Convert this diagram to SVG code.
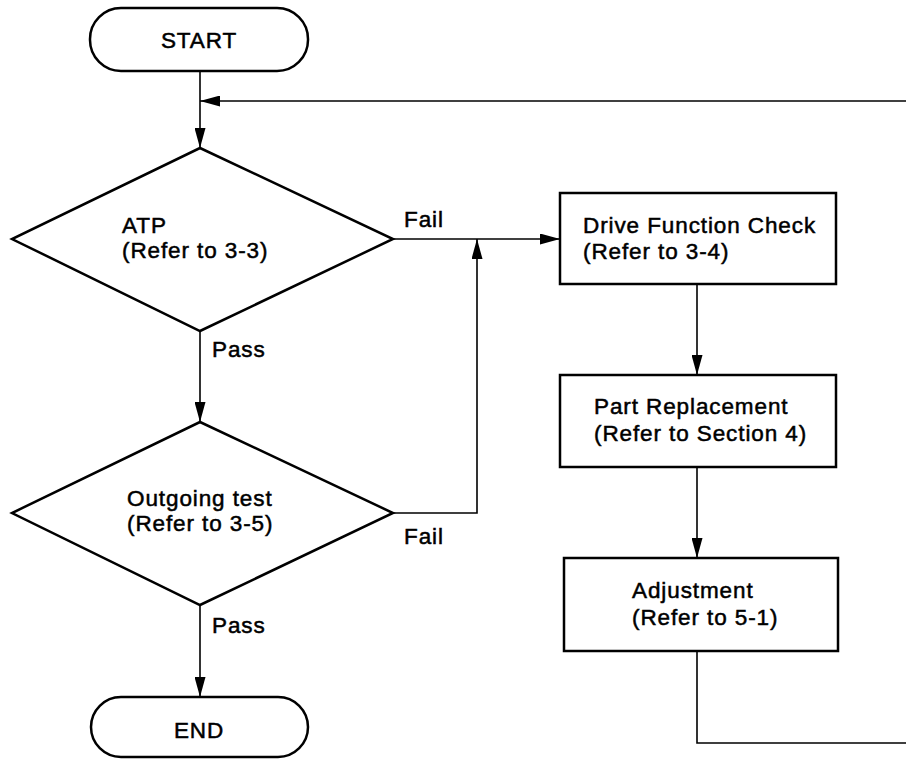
<svg xmlns="http://www.w3.org/2000/svg" width="906" height="759" viewBox="0 0 906 759">
<style>
.shape{fill:#fff;stroke:#000;stroke-width:2.5}
.conn{fill:none;stroke:#000;stroke-width:1.6}
text{font-family:"Liberation Sans",Arial,Helvetica,sans-serif;font-size:22.5px;letter-spacing:0.9px;fill:#000;stroke:#000;stroke-width:0.5}
</style>
<defs>
<marker id="arr" markerUnits="userSpaceOnUse" markerWidth="20" markerHeight="11" refX="20" refY="5.5" orient="auto">
<path d="M0,0 L20,5.5 L0,11 Z" fill="#000"/>
</marker>
</defs>
<g id="connectors">
<path class="conn" d="M200,71 V148" marker-end="url(#arr)"/>
<path class="conn" d="M906,101 H200" marker-end="url(#arr)"/>
<path class="conn" d="M393,239 H560" marker-end="url(#arr)"/>
<path class="conn" d="M200,331 V422" marker-end="url(#arr)"/>
<path class="conn" d="M393,513 H477 V239" marker-end="url(#arr)"/>
<path class="conn" d="M200,605 V697" marker-end="url(#arr)"/>
<path class="conn" d="M697,284 V375" marker-end="url(#arr)"/>
<path class="conn" d="M697,467 V558" marker-end="url(#arr)"/>
<path class="conn" d="M697,651 V743 H906"/>
<text x="404" y="227">Fail</text>
<text x="212" y="357">Pass</text>
<text x="404" y="544">Fail</text>
<text x="212" y="633">Pass</text>
</g>
<g id="start">
<rect class="shape" x="90" y="8" width="218" height="63" rx="31" ry="31"/>
<text x="199" y="48" text-anchor="middle">START</text>
</g>
<g id="atp">
<polygon class="shape" points="200,148 393,239 200,331 12,239"/>
<text x="122" y="233">ATP</text>
<text x="122" y="258">(Refer to 3-3)</text>
</g>
<g id="outgoing">
<polygon class="shape" points="200,422 393,513 200,605 12,513"/>
<text x="127" y="506">Outgoing test</text>
<text x="127" y="531">(Refer to 3-5)</text>
</g>
<g id="end">
<rect class="shape" x="91" y="697" width="217" height="60" rx="30" ry="30"/>
<text x="199" y="738" text-anchor="middle">END</text>
</g>
<g id="drive">
<rect class="shape" x="560" y="193" width="276" height="91"/>
<text x="583" y="233">Drive Function Check</text>
<text x="583" y="259">(Refer to 3-4)</text>
</g>
<g id="part">
<rect class="shape" x="560" y="375" width="276" height="92"/>
<text x="594" y="414">Part Replacement</text>
<text x="594" y="441">(Refer to Section 4)</text>
</g>
<g id="adjust">
<rect class="shape" x="564" y="558" width="274" height="93"/>
<text x="632" y="598">Adjustment</text>
<text x="632" y="625">(Refer to 5-1)</text>
</g>
</svg>
